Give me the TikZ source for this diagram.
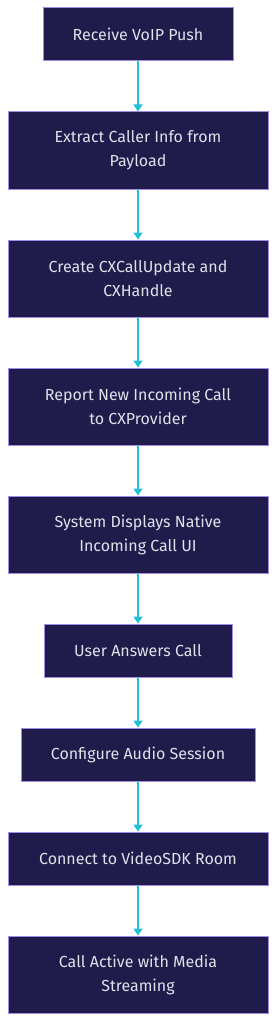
\documentclass[tikz,border=0pt]{standalone}
\usepackage{fontspec}
\setmainfont{Fira Sans}
\usetikzlibrary{arrows.meta}
\definecolor{boxfill}{HTML}{1F1B4B}
\definecolor{boxline}{HTML}{A08CE6}
\definecolor{boxtext}{HTML}{E2E0EA}
\definecolor{flowcyan}{HTML}{22BFD9}

\begin{document}
\begin{tikzpicture}[x=1pt,y=-1pt,font=\fontsize{16}{24}\selectfont,
  flowbox/.style={draw=boxline,fill=boxfill,text=boxtext,line width=1pt,align=center,inner sep=0pt},
  flow/.style={draw=flowcyan,line width=1.4pt,-{Triangle[length=7pt,width=9pt]}}]
\useasboundingbox (0,0) rectangle (276,1022);
\node[flowbox,minimum width=190pt,minimum height=53pt] (push) at (138,34.5) {Receive VoIP Push};
\node[flowbox,minimum width=260pt,minimum height=77pt] (extract) at (138,150.5) {Extract Caller Info from\\Payload};
\node[flowbox,minimum width=260pt,minimum height=77pt] (update) at (138,278.5) {Create CXCallUpdate and\\CXHandle};
\node[flowbox,minimum width=260pt,minimum height=77pt] (report) at (138,406.5) {Report New Incoming Call\\to CXProvider};
\node[flowbox,minimum width=260pt,minimum height=77pt] (native) at (138,534.5) {System Displays Native\\Incoming Call UI};
\node[flowbox,minimum width=188pt,minimum height=53pt] (answer) at (138,650.5) {User Answers Call};
\node[flowbox,minimum width=234pt,minimum height=53pt] (audio) at (138,754.5) {Configure Audio Session};
\node[flowbox,minimum width=260pt,minimum height=53pt] (room) at (138,858.5) {Connect to VideoSDK Room};
\node[flowbox,minimum width=260pt,minimum height=77pt] (active) at (138,974.5) {Call Active with Media\\Streaming};
\foreach \a/\b in {push/extract,extract/update,update/report,report/native,native/answer,answer/audio,audio/room,room/active}
  {\draw[flow] (\a) -- (\b);}
\end{tikzpicture}
\end{document}
